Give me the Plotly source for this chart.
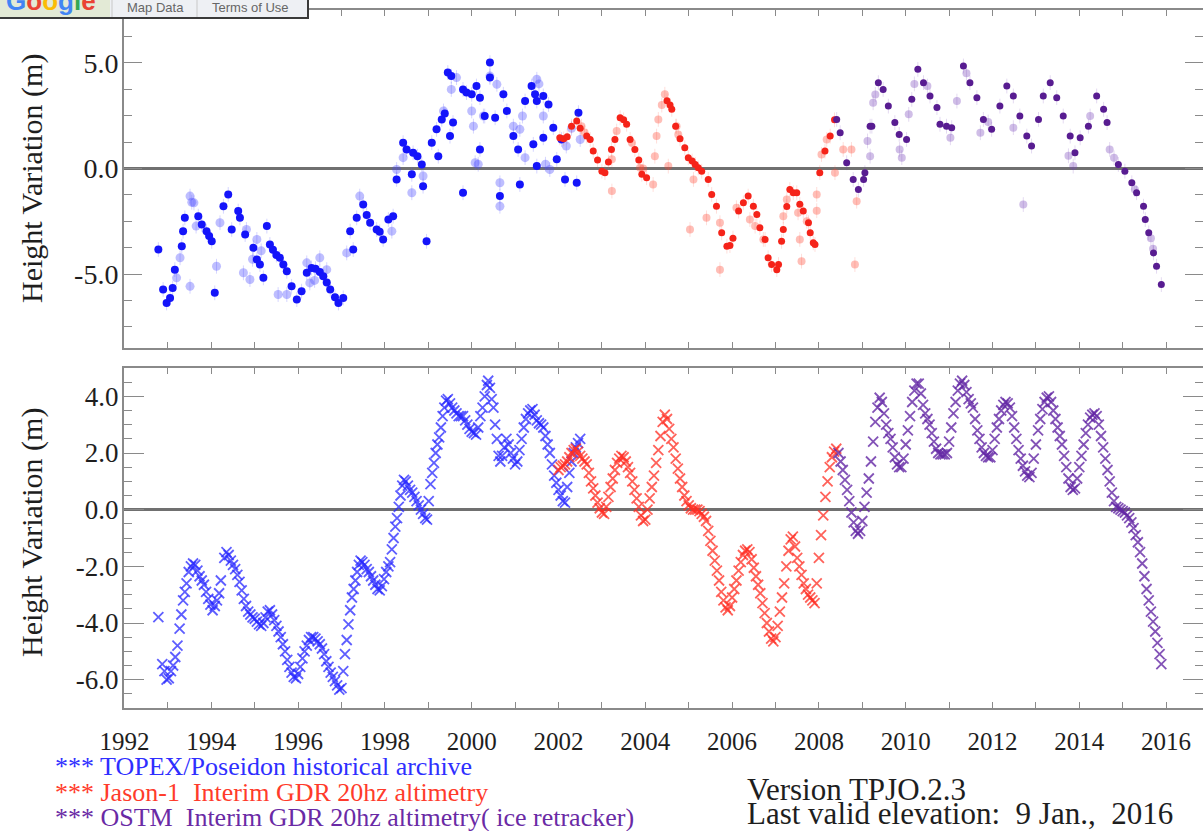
import plotly.graph_objects as go

# ---------------- data ----------------
# Top panel: individual elevations (dark = good quality, light = lower quality)
topex_dark_t = [1992.78,1992.89,1992.97,1993.05,1993.11,1993.16,1993.32,1993.35,1993.39,1993.70,1993.78,1993.89,1993.95,1994.01,1994.08,
                1994.28,1994.39,1994.47,1994.62,1994.66,1994.78,1994.97,1995.05,1995.12,1995.20,1995.28,1995.35,1995.42,1995.50,1995.58,
                1995.66,1995.74,1995.85,1995.97,1996.08,1996.20,1996.31,1996.40,1996.50,1996.58,1996.66,1996.74,1996.85,1996.93,1997.04,
                1997.20,1997.27,1997.35,1997.50,1997.58,1997.66,1997.81,1997.88,1997.96,1998.08,1998.19,1998.27,1998.42,1998.50,1998.62,
                1998.65,1998.75,1998.85,1998.88,1998.96,1999.08,1999.19,1999.23,1999.31,1999.38,1999.45,1999.50,1999.53,1999.57,1999.80,
                1999.88,1999.80,2000.00,2000.11,2000.19,2000.19,2000.30,2000.42,2000.42,2000.54,2000.65,2000.73,2000.81,2000.96,2001.07,
                2001.11,2001.23,2001.38,2001.46,2001.50,2001.42,2001.50,2001.65,2001.65,2001.77,2001.88,2001.96,2002.07,2002.15,2002.42,2002.46]
topex_dark_h = [-3.84,-5.73,-6.37,-6.13,-5.66,-4.79,-3.68,-2.97,-2.34,-2.26,-2.65,-2.97,-3.20,-3.45,-5.89,
                -1.79,-1.23,-2.89,-2.02,-2.34,-3.13,-3.76,-4.31,-4.55,-5.18,-2.73,-3.60,-3.85,-4.10,-4.23,
                -4.55,-4.87,-5.58,-6.21,-5.81,-4.94,-4.71,-4.75,-4.90,-5.10,-5.40,-5.73,-6.10,-6.37,-6.13,
                -2.97,-3.84,-2.34,-1.71,-2.20,-2.57,-2.89,-3.00,-3.36,-2.42,-2.26,-0.52,1.22,0.90,-0.28,
                0.74,0.58,0.19,-0.84,-3.45,1.22,1.85,0.58,2.32,2.60,4.54,1.53,4.37,2.17,3.74,
                3.59,-1.15,3.51,3.90,3.35,0.90,2.48,5.01,4.30,2.40,-1.31,3.51,2.72,1.53,0.90,
                -0.76,3.19,3.90,3.51,3.19,1.14,0.11,3.43,1.45,3.03,1.93,0.43,1.37,-0.52,-0.68,2.64]
topex_light_t = [1993.20,1993.28,1993.51,1993.55,1993.60,1993.51,1993.65,1994.12,1994.20,1994.74,1994.81,1994.89,1994.95,1995.05,1995.15,
                 1995.54,1995.74,1996.20,1996.27,1996.38,1996.50,1996.66,1997.12,1997.42,1998.16,1998.27,1998.42,1998.62,1998.88,1999.35,
                 1999.53,1999.65,2000.00,2000.04,2000.08,2000.15,2000.27,2000.42,2000.58,2000.65,2000.65,2000.96,2001.11,2001.17,2001.23,
                 2001.50,2001.55,2001.65,2001.80,2001.70,2002.18,2002.30,2002.50]
topex_light_h = [-5.18,-4.23,-1.31,-1.60,-1.63,-5.58,-2.73,-4.63,-2.57,-4.94,-2.89,-5.26,-4.30,-3.36,-3.90,
                 -5.97,-5.97,-4.47,-5.42,-5.30,-4.23,-4.79,-4.00,-1.31,-2.97,-0.05,0.51,-1.15,-0.36,2.72,
                 3.74,4.30,2.72,2.00,0.27,0.20,2.48,4.37,3.98,-0.68,-1.79,2.00,1.85,2.48,0.51,
                 4.22,4.00,2.48,-0.05,0.20,1.06,1.90,1.37]
jason_dark_t = [2002.03,2002.12,2002.20,2002.30,2002.42,2002.50,2002.65,2002.73,2002.80,2002.90,2003.00,2003.07,2003.15,2003.22,2003.30,
                2003.42,2003.50,2003.57,2003.65,2003.76,2003.85,2003.92,2004.03,2004.50,2004.57,2004.61,2004.70,2004.80,2004.91,2004.99,
                2005.08,2005.15,2005.22,2005.30,2005.45,2005.53,2005.64,2005.76,2005.88,2005.95,2006.02,2006.15,2006.26,2006.37,2006.49,
                2006.57,2006.64,2006.76,2006.83,2006.91,2007.03,2007.07,2007.14,2007.18,2007.26,2007.33,2007.41,2007.49,2007.56,2007.64,
                2007.76,2007.80,2007.87,2007.91,2008.02,2008.14,2008.26,2008.36]
jason_dark_h = [1.45,1.40,1.50,2.00,2.24,1.90,1.53,1.37,0.82,0.40,-0.13,-0.20,0.30,0.90,1.37,
                2.40,2.30,2.09,1.37,0.90,0.40,-0.28,-0.44,3.20,3.00,2.80,2.00,1.40,0.98,0.51,
                0.35,0.19,0.03,-0.13,-0.52,-1.23,-1.79,-3.05,-3.68,-3.65,-3.30,-2.02,-1.63,-1.31,-1.79,
                -2.18,-2.81,-3.36,-4.23,-4.55,-4.79,-4.55,-3.45,-2.89,-1.80,-1.00,-1.15,-1.15,-1.70,-2.02,
                -2.57,-3.05,-3.52,-3.60,-0.20,0.82,1.53,2.30]
jason_light_t = [2002.53,2002.60,2003.23,2003.23,2003.34,2003.69,2003.88,2003.95,2004.18,2004.22,2004.26,2004.30,2004.38,2004.45,2004.53,
                 2004.72,2004.76,2005.03,2005.11,2005.41,2005.72,2005.72,2006.10,2006.41,2006.53,2006.72,2007.18,2007.26,2007.52,2007.56,
                 2007.60,2007.72,2007.95,2007.95,2008.06,2008.18,2008.37,2008.56,2008.75,2008.83,2008.87]
jason_light_h = [2.00,1.70,0.43,-1.07,1.77,1.22,0.03,0.00,-0.76,0.58,1.53,2.32,3.00,3.51,0.11,
                 2.00,1.61,-2.89,-0.52,-2.34,-2.57,-4.79,-1.86,-2.42,-2.73,-3.36,-2.26,-1.47,-2.10,-3.36,
                 -4.39,-2.50,-1.23,-2.00,0.66,1.37,-0.20,0.90,0.90,-4.55,-1.55]
ostm_dark_t = [2008.41,2008.49,2008.64,2008.79,2008.91,2009.03,2009.06,2009.18,2009.22,2009.37,2009.48,2009.60,2009.75,2009.85,2010.02,
               2010.14,2010.28,2010.41,2010.56,2010.72,2010.79,2010.94,2011.06,2011.33,2011.48,2011.64,2011.79,2011.98,2012.17,2012.33,
               2012.48,2012.63,2012.79,2012.90,2013.06,2013.17,2013.33,2013.48,2013.63,2013.79,2013.90,2014.02,2014.21,2014.40,2014.56,
               2014.64,2014.90,2015.05,2015.21,2015.32,2015.48,2015.52,2015.60,2015.71,2015.78,2015.89]
ostm_dark_h = [2.32,1.69,0.27,-0.52,-1.00,-0.52,-0.20,2.00,2.00,4.06,3.74,2.95,2.17,1.61,1.37,
               3.27,4.69,4.06,3.43,2.88,2.09,2.00,1.93,4.85,4.06,3.35,2.32,1.85,2.95,3.90,
               3.43,2.48,1.53,1.06,2.32,3.43,4.06,3.35,2.48,1.53,0.74,1.45,2.00,3.43,2.80,
               2.17,0.19,-0.13,-0.68,-1.15,-1.79,-2.42,-3.05,-4.00,-4.63,-5.50]
ostm_light_t = [2009.18,2009.12,2009.25,2009.30,2009.91,2009.86,2010.07,2010.20,2010.50,2011.03,2011.18,2011.40,2011.72,2011.90,2012.48,
                2012.71,2013.86,2013.75,2014.25,2014.70,2014.80,2015.28,2015.65,2015.70]
ostm_light_h = [0.58,1.30,3.11,3.50,0.51,0.90,2.56,4.00,3.90,1.45,3.19,4.50,1.69,2.20,1.93,
                -1.71,0.11,0.60,2.48,0.90,0.50,-1.00,-3.30,-3.80]

# Bottom panel: smoothed elevations
topex_s_t = [1992.78,1992.87,1992.92,1992.97,1993.02,1993.07,1993.12,1993.17,1993.22,1993.27,1993.31,1993.35,1993.39,1993.43,1993.48,
             1993.53,1993.58,1993.63,1993.68,1993.73,1993.78,1993.83,1993.88,1993.93,1993.98,1994.03,1994.08,1994.13,1994.18,1994.22,
             1994.30,1994.35,1994.40,1994.45,1994.50,1994.55,1994.60,1994.65,1994.70,1994.75,1994.80,1994.85,1994.90,1994.95,1995.00,
             1995.05,1995.10,1995.15,1995.20,1995.25,1995.30,1995.35,1995.40,1995.45,1995.50,1995.55,1995.60,1995.65,1995.70,1995.75,
             1995.80,1995.85,1995.90,1995.95,1996.00,1996.05,1996.10,1996.15,1996.20,1996.25,1996.30,1996.35,1996.40,1996.45,1996.50,
             1996.55,1996.60,1996.65,1996.70,1996.75,1996.80,1996.85,1996.90,1996.95,1997.00,1997.04,1997.08,1997.12,1997.16,1997.20,
             1997.24,1997.28,1997.32,1997.36,1997.40,1997.44,1997.48,1997.53,1997.58,1997.63,1997.68,1997.73,1997.78,1997.83,1997.88,
             1997.93,1997.98,1998.03,1998.08,1998.12,1998.16,1998.20,1998.24,1998.28,1998.32,1998.36,1998.40,1998.44,1998.48,1998.53,
             1998.58,1998.63,1998.68,1998.73,1998.78,1998.83,1998.88,1998.93,1998.97,1999.01,1999.05,1999.09,1999.13,1999.17,1999.21,
             1999.25,1999.29,1999.33,1999.37,1999.41,1999.45,1999.50,1999.55,1999.60,1999.65,1999.70,1999.75,1999.80,1999.85,1999.90,
             1999.95,2000.00,2000.05,2000.10,2000.15,2000.20,2000.25,2000.30,2000.35,2000.38,2000.42,2000.46,2000.50,2000.54,2000.58,
             2000.62,2000.66,2000.70,2000.75,2000.80,2000.85,2000.90,2000.95,2001.00,2001.05,2001.10,2001.15,2001.20,2001.25,2001.30,
             2001.35,2001.40,2001.45,2001.50,2001.55,2001.60,2001.65,2001.70,2001.75,2001.80,2001.85,2001.90,2001.95,2002.00,2002.05,
             2002.10,2002.15,2002.20,2002.25,2002.30,2002.35,2002.40,2002.45,2002.50]
topex_s_h = [-3.79,-5.45,-5.70,-6.00,-5.95,-5.70,-5.50,-5.20,-4.80,-4.20,-3.70,-3.20,-2.90,-2.60,-2.20,
             -2.00,-1.90,-1.95,-2.15,-2.35,-2.50,-2.65,-2.90,-3.15,-3.35,-3.55,-3.40,-3.20,-2.95,-2.50,
             -1.70,-1.50,-1.60,-1.80,-1.95,-2.10,-2.30,-2.55,-2.85,-3.15,-3.40,-3.60,-3.70,-3.80,-3.85,
             -3.95,-4.05,-4.10,-4.00,-3.80,-3.60,-3.55,-3.70,-3.90,-4.10,-4.30,-4.50,-4.75,-5.00,-5.30,
             -5.55,-5.75,-5.90,-5.95,-5.80,-5.55,-5.25,-5.00,-4.80,-4.60,-4.50,-4.50,-4.55,-4.65,-4.75,
             -4.90,-5.10,-5.35,-5.55,-5.75,-5.90,-6.05,-6.20,-6.35,-6.30,-5.70,-5.10,-4.60,-4.05,-3.55,
             -3.10,-2.80,-2.50,-2.20,-1.95,-1.80,-1.85,-1.95,-2.10,-2.20,-2.35,-2.50,-2.65,-2.80,-2.85,
             -2.70,-2.45,-2.20,-2.00,-1.85,-1.40,-1.00,-0.60,-0.30,0.10,0.50,0.85,1.05,1.00,0.85,
             0.70,0.60,0.45,0.30,0.15,0.00,-0.15,-0.30,-0.35,0.30,0.90,1.30,1.65,2.00,2.30,
             2.55,2.90,3.30,3.60,3.85,3.90,3.75,3.60,3.50,3.40,3.30,3.30,3.30,3.15,3.00,
             2.85,2.75,2.70,2.65,2.90,3.30,3.60,4.00,4.40,4.55,4.30,3.90,3.60,3.00,2.50,
             1.90,1.70,1.90,2.20,2.50,2.30,2.00,1.80,1.60,1.70,2.10,2.50,2.90,3.20,3.40,
             3.50,3.55,3.35,3.15,3.05,3.00,2.90,2.60,2.30,2.00,1.60,1.20,0.95,0.70,0.50,
             0.30,0.25,0.80,1.30,1.70,2.00,2.20,2.35,2.50]
jason_s_t = [2002.00,2002.05,2002.10,2002.15,2002.20,2002.25,2002.30,2002.35,2002.40,2002.45,2002.50,2002.55,2002.60,2002.65,2002.70,
             2002.75,2002.80,2002.85,2002.90,2002.95,2003.00,2003.05,2003.10,2003.15,2003.20,2003.25,2003.30,2003.35,2003.40,2003.45,
             2003.50,2003.55,2003.60,2003.65,2003.70,2003.75,2003.80,2003.85,2003.90,2003.95,2004.00,2004.05,2004.10,2004.15,2004.20,
             2004.25,2004.30,2004.35,2004.40,2004.45,2004.50,2004.55,2004.60,2004.65,2004.70,2004.75,2004.80,2004.85,2004.90,2004.95,
             2005.00,2005.05,2005.10,2005.15,2005.20,2005.25,2005.30,2005.35,2005.40,2005.45,2005.50,2005.55,2005.60,2005.65,2005.70,
             2005.75,2005.80,2005.85,2005.90,2005.95,2006.00,2006.05,2006.10,2006.15,2006.20,2006.25,2006.30,2006.35,2006.40,2006.45,
             2006.50,2006.55,2006.60,2006.65,2006.70,2006.75,2006.80,2006.85,2006.90,2006.95,2007.00,2007.05,2007.10,2007.15,2007.20,
             2007.25,2007.30,2007.35,2007.40,2007.45,2007.50,2007.55,2007.60,2007.65,2007.70,2007.75,2007.80,2007.85,2007.90,2007.95,
             2008.00,2008.05,2008.10,2008.15,2008.20,2008.25,2008.30,2008.35,2008.40]
jason_s_h = [1.40,1.50,1.55,1.60,1.70,1.85,2.00,2.10,2.15,2.05,1.90,1.80,1.70,1.60,1.30,
             1.00,0.75,0.50,0.25,0.05,-0.10,-0.15,0.10,0.45,0.80,1.10,1.40,1.65,1.80,1.90,
             1.85,1.70,1.50,1.30,1.00,0.70,0.40,0.10,-0.20,-0.40,-0.35,0.00,0.40,0.80,1.20,
             1.65,2.10,2.60,3.10,3.35,3.20,2.85,2.50,2.20,1.80,1.45,1.10,0.80,0.50,0.30,
             0.15,0.05,0.00,0.00,0.00,-0.05,-0.15,-0.25,-0.40,-0.75,-1.10,-1.45,-1.80,-2.15,-2.50,
             -2.90,-3.20,-3.45,-3.55,-3.40,-3.10,-2.80,-2.50,-2.15,-1.85,-1.60,-1.45,-1.40,-1.50,-1.75,
             -2.05,-2.35,-2.65,-2.95,-3.30,-3.65,-4.00,-4.30,-4.55,-4.65,-4.50,-4.10,-3.60,-3.10,-2.60,
             -2.00,-1.45,-1.05,-0.95,-1.30,-1.70,-2.00,-2.30,-2.60,-2.80,-3.00,-3.10,-3.20,-3.30,-2.60,
             -1.70,-0.90,-0.20,0.45,1.00,1.50,1.85,2.05,2.15]
ostm_s_t = [2008.45,2008.50,2008.55,2008.60,2008.65,2008.70,2008.75,2008.80,2008.85,2008.90,2008.95,2009.00,2009.05,2009.10,2009.15,
            2009.20,2009.25,2009.30,2009.35,2009.40,2009.45,2009.50,2009.55,2009.60,2009.65,2009.70,2009.75,2009.80,2009.85,2009.90,
            2009.95,2010.00,2010.05,2010.10,2010.15,2010.20,2010.25,2010.30,2010.35,2010.40,2010.45,2010.50,2010.55,2010.60,2010.65,
            2010.70,2010.75,2010.80,2010.85,2010.90,2010.95,2011.00,2011.05,2011.10,2011.15,2011.20,2011.25,2011.30,2011.35,2011.40,
            2011.45,2011.50,2011.55,2011.60,2011.65,2011.70,2011.75,2011.80,2011.85,2011.90,2011.95,2012.00,2012.05,2012.10,2012.15,
            2012.20,2012.25,2012.30,2012.35,2012.40,2012.45,2012.50,2012.55,2012.60,2012.65,2012.70,2012.75,2012.80,2012.85,2012.90,
            2012.95,2013.00,2013.05,2013.10,2013.15,2013.20,2013.25,2013.30,2013.35,2013.40,2013.45,2013.50,2013.55,2013.60,2013.65,
            2013.70,2013.75,2013.80,2013.85,2013.90,2013.95,2014.00,2014.05,2014.10,2014.15,2014.20,2014.25,2014.30,2014.35,2014.40,
            2014.45,2014.50,2014.55,2014.60,2014.65,2014.70,2014.75,2014.80,2014.85,2014.90,2014.95,2015.00,2015.05,2015.10,2015.15,
            2015.20,2015.25,2015.30,2015.35,2015.40,2015.45,2015.50,2015.55,2015.60,2015.65,2015.70,2015.75,2015.80,2015.85,2015.89]
ostm_s_h = [2.00,1.70,1.40,1.05,0.70,0.30,-0.10,-0.45,-0.75,-0.85,-0.75,-0.40,0.10,0.60,1.10,
            1.70,2.40,3.10,3.60,3.95,3.80,3.40,3.00,2.70,2.50,2.20,1.85,1.60,1.50,1.50,
            1.80,2.30,2.80,3.30,3.80,4.20,4.45,4.45,4.10,3.70,3.40,3.20,3.00,2.70,2.40,
            2.15,2.00,1.95,1.95,1.95,2.00,2.40,2.90,3.40,3.80,4.20,4.45,4.55,4.40,4.15,
            3.90,3.75,3.60,3.20,2.80,2.50,2.20,2.00,1.90,1.85,1.85,2.10,2.50,2.90,3.20,
            3.50,3.70,3.80,3.75,3.60,3.30,2.90,2.50,2.10,1.80,1.55,1.35,1.20,1.15,1.30,
            1.80,2.30,2.80,3.20,3.55,3.80,3.95,4.00,3.80,3.50,3.20,2.90,2.60,2.30,1.90,
            1.50,1.10,0.80,0.70,0.75,1.10,1.50,1.90,2.30,2.70,3.00,3.25,3.35,3.40,3.30,
            3.00,2.60,2.20,1.80,1.40,1.00,0.60,0.30,0.10,0.05,0.00,-0.05,-0.10,-0.20,-0.30,
            -0.45,-0.65,-0.90,-1.15,-1.50,-1.90,-2.35,-2.80,-3.20,-3.60,-3.95,-4.30,-4.70,-5.10,-5.45]

year_ticks = [1992, 1994, 1996, 1998, 2000, 2002, 2004, 2006, 2008, 2010, 2012, 2014, 2016]
top_ticks = [-5.0, 0.0, 5.0]
bottom_ticks = [-6.0, -4.0, -2.0, 0.0, 2.0, 4.0]

legend_lines = ["*** TOPEX/Poseidon historical archive",
                "*** Jason-1  Interim GDR 20hz altimetry",
                "*** OSTM  Interim GDR 20hz altimetry( ice retracker)"]
version_lines = ["Version TPJO.2.3", "Last valid elevation:  9 Jan.,  2016"]

# ---------------- styling / layout ----------------
W, H = 1203, 831
ML = 124
PW = W - ML


def px_x(px):
    return (px - ML) / PW


def px_y(py):
    return 1 - py / H


BLUE = "rgb(20,20,250)"
BLUE_L = "rgba(70,70,255,0.35)"
RED = "rgb(245,35,25)"
RED_L = "rgba(255,70,50,0.35)"
PURP = "rgb(88,28,145)"
PURP_L = "rgba(120,70,185,0.35)"

fig = go.Figure()


def top_trace(t, h, color, size, err_color):
    fig.add_trace(go.Scatter(
        x=t, y=h, mode="markers", xaxis="x", yaxis="y",
        marker=dict(color=color, size=size, line=dict(width=0)),
        error_y=dict(type="constant", value=0.35, color=err_color, thickness=1, width=0),
        showlegend=False, hoverinfo="x+y"))


top_trace(topex_light_t, topex_light_h, BLUE_L, 9, "rgba(90,90,255,0.25)")
top_trace(topex_dark_t, topex_dark_h, BLUE, 8, "rgba(90,90,255,0.25)")
top_trace(jason_light_t, jason_light_h, RED_L, 8, "rgba(255,90,70,0.2)")
top_trace(jason_dark_t, jason_dark_h, RED, 7, "rgba(255,90,70,0.2)")
top_trace(ostm_light_t, ostm_light_h, PURP_L, 8, "rgba(120,70,185,0.2)")
top_trace(ostm_dark_t, ostm_dark_h, PURP, 7, "rgba(120,70,185,0.2)")


def bottom_trace(t, h, color):
    fig.add_trace(go.Scatter(
        x=t, y=h, mode="markers", xaxis="x2", yaxis="y2",
        marker=dict(symbol="x-thin", size=10, line=dict(width=1.8, color=color)),
        showlegend=False, hoverinfo="x+y"))


bottom_trace(topex_s_t, topex_s_h, "rgba(40,40,255,0.75)")
bottom_trace(jason_s_t, jason_s_h, "rgba(255,45,35,0.75)")
bottom_trace(ostm_s_t, ostm_s_h, "rgba(100,40,165,0.8)")

AX = "#8a8a8a"
TXT = "#1e1e1e"
SERIF = "Liberation Serif, Times New Roman, serif"
xr = [1992 - 0.5 / 43.4, 1992 + (W - 124.5) / 43.4]

xcommon = dict(range=xr, showgrid=False, zeroline=False, showline=True, linecolor=AX, linewidth=2,
               mirror="ticks", ticks="inside", ticklen=6, tickwidth=1, tickcolor=AX,
               tickvals=year_ticks, domain=[0, 1],
               minor=dict(dtick=1, tick0=1992, ticks="inside", ticklen=6, tickwidth=1, tickcolor=AX))
fig.update_layout(
    width=W, height=H, margin=dict(l=ML, r=0, t=0, b=0, autoexpand=False),
    paper_bgcolor="white", plot_bgcolor="white",
    xaxis=dict(**xcommon, anchor="y", showticklabels=False),
    xaxis2=dict(**xcommon, anchor="y2", ticktext=[str(v) for v in year_ticks],
                tickfont=dict(family=SERIF, size=25, color=TXT), ticklabelstandoff=10),
    yaxis=dict(domain=[px_y(348), px_y(10)], range=[-8.5, 7.5], anchor="x",
               tickvals=top_ticks, ticktext=["%.1f" % v for v in top_ticks],
               tickfont=dict(family=SERIF, size=28, color=TXT), ticklabelstandoff=-2,
               ticks="inside", ticklen=18, tickwidth=1.2, tickcolor=AX,
               minor=dict(dtick=1.25, tick0=0, ticks="inside", ticklen=8, tickwidth=1, tickcolor=AX),
               showline=True, linecolor=AX, linewidth=2, mirror="ticks", showgrid=False,
               zeroline=True, zerolinecolor="#707070", zerolinewidth=3),
    yaxis2=dict(domain=[px_y(708), px_y(368)], range=[-7, 5], anchor="x2",
                tickvals=bottom_ticks, ticktext=["%.1f" % v for v in bottom_ticks],
                tickfont=dict(family=SERIF, size=27, color=TXT), ticklabelstandoff=-2,
                ticks="inside", ticklen=20, tickwidth=1.2, tickcolor=AX,
                minor=dict(dtick=0.5, tick0=0, ticks="inside", ticklen=8, tickwidth=1, tickcolor=AX),
                showline=True, linecolor=AX, linewidth=2, mirror="ticks", showgrid=False,
                zeroline=True, zerolinecolor="#707070", zerolinewidth=3),
)

ann = []
for yc in (179, 533):
    ann.append(dict(text="Height Variation (m)", xref="paper", yref="paper", x=px_x(32), y=px_y(yc),
                    xanchor="center", yanchor="middle", textangle=-90, showarrow=False,
                    font=dict(family=SERIF, size=30, color=TXT)))
leg_cols = ["#2f2fff", "#ff3b2b", "#6a2aa5"]
for txt, col, yc in zip(legend_lines, leg_cols, (766, 792, 817)):
    ann.append(dict(text=txt, xref="paper", yref="paper", x=px_x(53), y=px_y(yc),
                    xanchor="left", yanchor="middle", showarrow=False,
                    font=dict(family=SERIF, size=26, color=col)))
for txt, yc in zip(version_lines, (789, 813)):
    ann.append(dict(text=txt, xref="paper", yref="paper", x=px_x(745), y=px_y(yc),
                    xanchor="left", yanchor="middle", showarrow=False,
                    font=dict(family=SERIF, size=31, color=TXT)))

# Google map-overlay strip in the top-left corner
shapes = [
    dict(type="rect", xref="paper", yref="paper", x0=px_x(-3), x1=px_x(308), y0=px_y(18), y1=px_y(-5),
         fillcolor="#eef0f4", line=dict(color="#3a3a3a", width=2), layer="above"),
    dict(type="rect", xref="paper", yref="paper", x0=px_x(-3), x1=px_x(110), y0=px_y(17), y1=px_y(-5),
         fillcolor="#e3ead6", line=dict(width=0), layer="above"),
    dict(type="line", xref="paper", yref="paper", x0=px_x(112), x1=px_x(112), y0=px_y(17), y1=px_y(0),
         line=dict(color="#c8c8c8", width=1), layer="above"),
    dict(type="line", xref="paper", yref="paper", x0=px_x(197), x1=px_x(197), y0=px_y(17), y1=px_y(0),
         line=dict(color="#c8c8c8", width=1), layer="above"),
]
ann.append(dict(text="<b><span style='color:#4285F4'>G</span><span style='color:#EA4335'>o</span>"
                     "<span style='color:#FBBC05'>o</span><span style='color:#4285F4'>g</span>"
                     "<span style='color:#34A853'>l</span><span style='color:#EA4335'>e</span></b>",
                xref="paper", yref="paper", x=px_x(4), y=px_y(1), xanchor="left", yanchor="middle",
                showarrow=False, font=dict(family="Arial, sans-serif", size=26)))
ann.append(dict(text="Map Data", xref="paper", yref="paper", x=px_x(155), y=px_y(8),
                xanchor="center", yanchor="middle", showarrow=False,
                font=dict(family="Liberation Sans, Arial, sans-serif", size=13, color="#666")))
ann.append(dict(text="Terms of Use", xref="paper", yref="paper", x=px_x(250), y=px_y(8),
                xanchor="center", yanchor="middle", showarrow=False,
                font=dict(family="Liberation Sans, Arial, sans-serif", size=13, color="#666")))

fig.update_layout(annotations=ann, shapes=shapes)
fig.write_html("out.html", config={"displayModeBar": False},
               post_script="document.body.style.margin='0px';")
